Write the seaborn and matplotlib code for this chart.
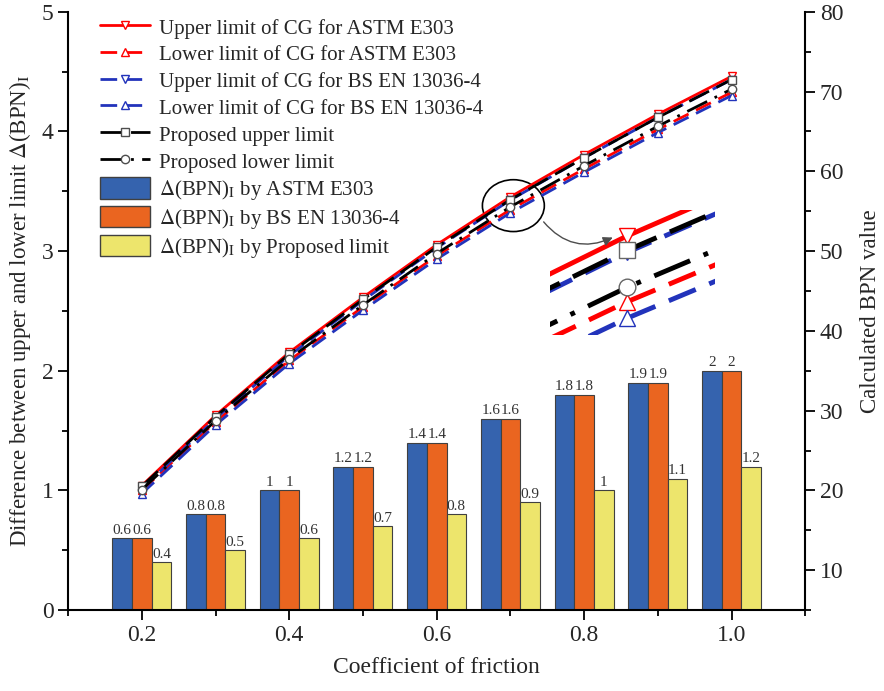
import matplotlib
matplotlib.use('Agg')
import matplotlib.pyplot as plt
from matplotlib.patches import Ellipse, Patch, FancyArrowPatch
from matplotlib.ticker import MultipleLocator
import pandas as pd
import seaborn as sns

# Data
cof = [0.2, 0.3, 0.4, 0.5, 0.6, 0.7, 0.8, 0.9, 1.0]
delta_astm = [0.6, 0.8, 1.0, 1.2, 1.4, 1.6, 1.8, 1.9, 2.0]
delta_bs = [0.6, 0.8, 1.0, 1.2, 1.4, 1.6, 1.8, 1.9, 2.0]
delta_prop = [0.4, 0.5, 0.6, 0.7, 0.8, 0.9, 1.0, 1.1, 1.2]

astm_upper = [20.6, 29.4, 37.3, 44.2, 50.8, 56.8, 62.1, 67.15, 71.9]
astm_lower = [20.0, 28.6, 36.3, 43.0, 49.4, 55.2, 60.3, 65.25, 69.9]
bs_upper = [20.2, 29.0, 36.9, 43.8, 50.4, 56.4, 61.7, 66.75, 71.5]
bs_lower = [19.6, 28.2, 35.9, 42.6, 49.0, 54.8, 59.9, 64.85, 69.5]
prop_upper = [20.5, 29.25, 37.1, 43.95, 50.5, 56.45, 61.7, 66.75, 71.5]
prop_lower = [20.1, 28.75, 36.5, 43.25, 49.7, 55.55, 60.7, 65.65, 70.3]

bar_names = ['ASTM E303', 'BS EN 13036-4', 'Proposed limit']
bar_colors = ['#3563AE', '#EA6520', '#EDE56C']

sns.set_style('ticks')
plt.rcParams['font.family'] = ['Liberation Serif', 'DejaVu Serif']
plt.rcParams['mathtext.fontset'] = 'stix'

fig = plt.figure(figsize=(8.84, 6.91), dpi=100)
ax = fig.add_axes([0.077, 0.117, 0.834, 0.866])

# bars (left axis)
bars = pd.DataFrame({
    'cof': cof * 3,
    'delta': delta_astm + delta_bs + delta_prop,
    'method': [m for m in bar_names for _ in cof],
})
sns.barplot(data=bars, x='cof', y='delta', hue='method', native_scale=True,
            palette=bar_colors, saturation=1, edgecolor='0.25', linewidth=0.8,
            errorbar=None, legend=False, ax=ax)
for cont in ax.containers:
    ax.bar_label(cont, fmt='%g', fontsize=11, color='#333333', padding=1)

ax.set_xlim(0.1, 1.1)
ax.set_ylim(0, 5)
ax.xaxis.set_major_locator(MultipleLocator(0.2))
ax.xaxis.set_minor_locator(MultipleLocator(0.1))
ax.yaxis.set_major_locator(MultipleLocator(1))
ax.yaxis.set_minor_locator(MultipleLocator(0.5))
ax.xaxis.set_major_formatter(matplotlib.ticker.FormatStrFormatter('%.1f'))
ax.set_xlabel('Coefficient of friction', fontsize=17, labelpad=8)
ax.set_ylabel(r'Difference between upper and lower limit $\Delta$(BPN)$_\mathrm{I}$',
              fontsize=16.5, labelpad=6)

# lines (right axis)
ax2 = ax.twinx()
line_specs = [
    (astm_upper, 'red', '-', 'v', 'Upper limit of CG for ASTM E303'),
    (astm_lower, 'red', (0, (6, 3)), '^', 'Lower limit of CG for ASTM E303'),
    (bs_upper, '#2233BB', (0, (6, 3)), 'v', 'Upper limit of CG for BS EN 13036-4'),
    (bs_lower, '#2233BB', (0, (6, 3)), '^', 'Lower limit of CG for BS EN 13036-4'),
    (prop_upper, 'black', (0, (8, 3)), 's', 'Proposed upper limit'),
    (prop_lower, 'black', (0, (8, 3, 1, 3)), 'o', 'Proposed lower limit'),
]
for vals, col, ls, mk, lab in line_specs:
    sns.lineplot(x=cof, y=vals, ax=ax2, color=col, linestyle=ls, linewidth=2,
                 marker=mk, markersize=6, markerfacecolor='white',
                 markeredgecolor=col if col != 'black' else '0.3',
                 markeredgewidth=1, label=lab)
ax2.set_ylim(5, 80)
ax2.yaxis.set_major_locator(MultipleLocator(10))
ax2.yaxis.set_minor_locator(MultipleLocator(5))
ax2.set_ylabel('Calculated BPN value', fontsize=16.5, labelpad=12)

for a in (ax, ax2):
    a.tick_params(which='major', direction='out', length=7, width=1.3, labelsize=17, color='black')
    a.tick_params(which='minor', direction='out', length=4, width=1.3, color='black')
    a.spines['top'].set_visible(False)
    for s in ('left', 'right', 'bottom'):
        a.spines[s].set_linewidth(1.5)
        a.spines[s].set_color('black')
ax.spines['right'].set_visible(False)
ax2.spines['left'].set_visible(False)
ax2.spines['bottom'].set_visible(False)

# legend
handles, labels = ax2.get_legend_handles_labels()
for name, col in zip(bar_names, bar_colors):
    handles.append(Patch(facecolor=col, edgecolor='0.25'))
    labels.append(r'$\Delta$(BPN)$_\mathrm{I}$ by ' + name)
ax2.legend(handles, labels, loc='upper left', bbox_to_anchor=(0.037, 1.0),
           frameon=False, fontsize=15, handlelength=2.4, handleheight=1.2,
           labelspacing=0.2, handletextpad=0.45, borderaxespad=0, borderpad=0.2)

# circled region and zoomed inset
ax2.add_patch(Ellipse((0.704, 55.7), 0.084, 6.5, fill=False, ec='black', lw=1.2))
ins = fig.add_axes([0.622, 0.515, 0.187, 0.181])
for vals, col, ls, mk, lab in line_specs:
    ins.plot(cof, vals, color=col, linestyle=ls, linewidth=3.5,
             marker=mk, markersize=12, markerfacecolor='white',
             markeredgecolor=col if col != 'black' else '0.4', markeredgewidth=1)
ins.set_xlim(0.6846, 0.7176)
ins.set_ylim(54.39, 57.43)
ins.axis('off')

arrow = FancyArrowPatch((0.613, 0.682), (0.696, 0.658), transform=fig.transFigure,
                        connectionstyle='arc3,rad=0.4', arrowstyle='-|>',
                        mutation_scale=14, color='0.3', lw=1)
fig.add_artist(arrow)

fig.savefig('out.png', dpi=100)
